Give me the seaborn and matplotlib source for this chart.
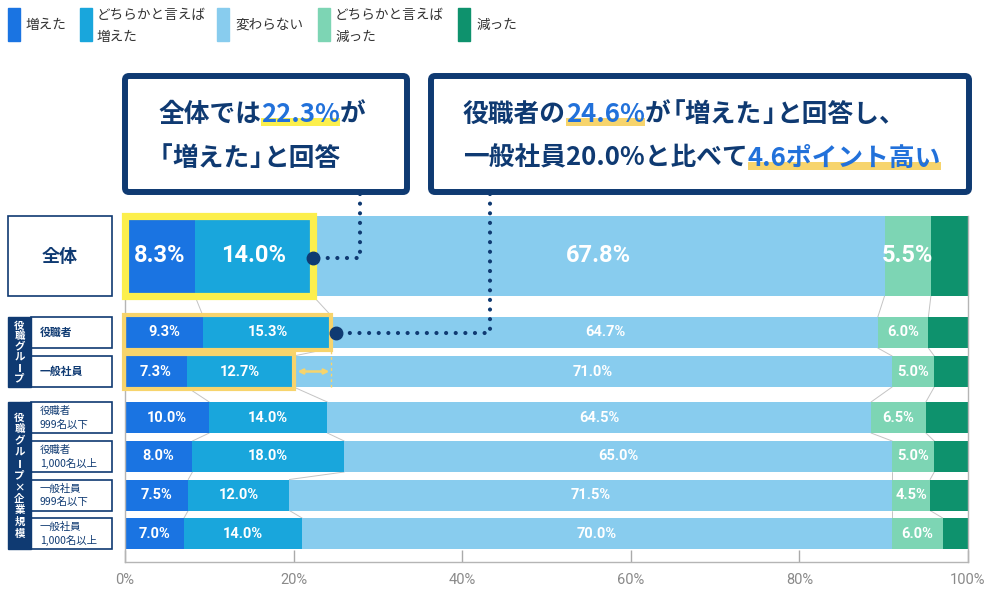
import matplotlib
matplotlib.use("Agg")
import matplotlib.pyplot as plt
from matplotlib.patches import Rectangle, FancyBboxPatch
import seaborn as sns
import numpy as np

# data (percent)
rows = ["全体", "役職者", "一般社員", "役職者\n999名以下", "役職者\n1,000名以上",
        "一般社員\n999名以下", "一般社員\n1,000名以上"]
increased = [8.3, 9.3, 7.3, 10.0, 8.0, 7.5, 7.0]
rather_inc = [14.0, 15.3, 12.7, 14.0, 18.0, 12.0, 14.0]
unchanged = [67.8, 64.7, 71.0, 64.5, 65.0, 71.5, 70.0]
rather_dec = [5.5, 6.0, 5.0, 6.5, 5.0, 4.5, 6.0]
decreased = [4.4, 4.7, 4.0, 5.0, 4.0, 4.5, 3.0]
legend_labels = ["増えた", "どちらかと言えば\n増えた", "変わらない", "どちらかと言えば\n減った", "減った"]
x_ticks = [0, 20, 40, 60, 80, 100]
groups = [(1, 2, "役職グループ"), (3, 6, "役職グループ×企業規模")]

# layout (pixels from top-left of the 1000x589 image)
row_y = [256, 332.5, 371.5, 417.5, 456.5, 495, 533.5]
row_h = [80, 31, 31, 31, 31, 31, 31]
AX_L, AX_R, AX_T, AX_B = 125, 968, 216, 562
W, H = 1000, 589

colors = sns.color_palette(["#1a74e2", "#19a6dc", "#88ccee", "#7dd5b4", "#0e926d"])
navy = "#0f3a72"
yellow1 = "#fcef4c"
yellow2 = "#f7d46c"
blue_txt = "#2271da"

sns.set_theme(style="white")
plt.rcParams["font.family"] = ["Noto Sans CJK JP", "DejaVu Sans"]
num_font = ["Roboto", "DejaVu Sans"]

fig = plt.figure(figsize=(10, 5.89), dpi=100)
ax = fig.add_axes([AX_L / W, 1 - AX_B / H, (AX_R - AX_L) / W, (AX_B - AX_T) / H])
ov = fig.add_axes([0, 0, 1, 1], zorder=5)
ov.set_xlim(0, W)
ov.set_ylim(H, 0)
ov.axis("off")
ov.patch.set_alpha(0)


def px(p):
    return AX_L + p * (AX_R - AX_L) / 100


series = [increased, rather_inc, unchanged, rather_dec, decreased]
data = np.array(series)
cum = np.vstack([np.zeros(len(rows)), np.cumsum(data, axis=0)])

for k, vals in enumerate(series):
    ax.barh(row_y, vals, left=cum[k], height=row_h, color=colors[k], edgecolor="none", zorder=2)

# series lines between rows
for i in range(len(rows) - 1):
    y0 = row_y[i] + row_h[i] / 2
    y1 = row_y[i + 1] - row_h[i + 1] / 2
    for k in range(1, 5):
        ax.plot([cum[k][i], cum[k][i + 1]], [y0, y1], color="#c4c4c4", lw=0.7, zorder=1)

# value labels
for i in range(len(rows)):
    fs = 17 if i == 0 else 10.5
    for k in range(4):
        v = series[k][i]
        ax.text(cum[k][i] + v / 2, row_y[i], f"{v:.1f}%", ha="center", va="center",
                color="white", fontsize=fs, fontweight="bold", family=num_font, zorder=3)

ax.set_xlim(0, 100)
ax.set_ylim(AX_B, AX_T)
ax.set_yticks([])
ax.set_xticks(x_ticks)
ax.set_xticklabels([f"{t}%" for t in x_ticks], family=["Roboto", "DejaVu Sans"])
ax.tick_params(axis="x", direction="in", length=9, width=1, color="#aaaaaa",
               labelcolor="#8a8a8a", labelsize=10.5, pad=8, bottom=True)
ax.grid(False)
for s in ["left", "right", "bottom"]:
    ax.spines[s].set_color("#b5b5b5")
    ax.spines[s].set_linewidth(1)
ax.spines["top"].set_visible(False)

# legend
leg_x = [8, 80, 217, 318, 458]
for k, lab in enumerate(legend_labels):
    ov.add_patch(Rectangle((leg_x[k], 8), 12, 33, color=colors[k]))
    lines = lab.split("\n")
    if len(lines) == 1:
        ov.text(leg_x[k] + 18, 25, lines[0], va="center", fontsize=9.8, color="#333333")
    else:
        ov.text(leg_x[k] + 17, 15, lines[0], va="center", fontsize=9.8, color="#333333")
        ov.text(leg_x[k] + 17, 37, lines[1], va="center", fontsize=9.8, color="#333333")

# row label boxes
for i, lab in enumerate(rows):
    top = row_y[i] - row_h[i] / 2
    if i == 0:
        ov.add_patch(Rectangle((8, top), 104, row_h[i], facecolor="white", edgecolor=navy, lw=1.2))
        ov.text(60, row_y[i], lab, ha="center", va="center", fontsize=13,
                fontweight="bold", color=navy)
    else:
        ov.add_patch(Rectangle((31, top), 81, row_h[i], facecolor="white", edgecolor=navy, lw=1.2))
        lines = lab.split("\n")
        if len(lines) == 1:
            ov.text(40, row_y[i], lab, ha="left", va="center", fontsize=7.8,
                    fontweight="bold", color=navy)
        else:
            ov.text(40, row_y[i] - 6.5, lines[0], ha="left", va="center", fontsize=7.5,
                    color=navy)
            ov.text(40, row_y[i] + 7, lines[1], ha="left", va="center", fontsize=7.5,
                    color=navy)

for a, b, lab in groups:
    top = row_y[a] - row_h[a] / 2
    bot = row_y[b] + row_h[b] / 2
    ov.add_patch(Rectangle((8, top), 23, bot - top, color=navy))
    n = len(lab)
    step = 10.4 if n < 8 else 11.6
    y = (top + bot) / 2 - step * (n - 1) / 2
    for ch in lab:
        if ch == "ー":
            # long vowel mark written vertically
            ov.plot([19.5, 19.5], [y - 4, y + 4], color="white", lw=1.3, solid_capstyle="butt")
        else:
            ov.text(19.5, y, ch, ha="center", va="center", fontsize=7.5, fontweight="bold",
                    color="white")
        y += step

# highlight frames
ov.add_patch(Rectangle((px(0), AX_T), px(22.3) - px(0), 80, fill=False,
                       edgecolor=yellow1, lw=5.2))
ov.add_patch(Rectangle((124, 315), px(24.6) - 1 - 124, 35, fill=False,
                       edgecolor=yellow2, lw=3))
ov.add_patch(Rectangle((124, 354), px(20) - 124, 35, fill=False,
                       edgecolor=yellow2, lw=3))
ov.annotate("", xy=(px(24.6) - 3, 371.5), xytext=(px(20) + 4, 371.5),
            arrowprops=dict(arrowstyle="<|-|>", color=yellow2, lw=1.8,
                            mutation_scale=7, shrinkA=0, shrinkB=0))
ov.plot([px(24.6) - 1, px(24.6) - 1], [351, 388], color=yellow2, lw=1, ls=(0, (2, 2)))

# callout boxes
ov.add_patch(FancyBboxPatch((125, 76), 282, 116, boxstyle="round,pad=0,rounding_size=4",
                            facecolor="white", edgecolor=navy, lw=4.3))
ov.add_patch(FancyBboxPatch((431, 76), 538, 116, boxstyle="round,pad=0,rounding_size=4",
                            facecolor="white", edgecolor=navy, lw=4.3))

renderer = fig.canvas.get_renderer()


def rich(x, y, parts, size=18.5):
    em = size * 100 / 72
    for s, col, hl in parts:
        # split so that the corner brackets can be set tight
        tokens = s.replace("「", "\0「\0").replace("」", "\0」\0").split("\0")
        x0 = x
        for tok in tokens:
            if not tok:
                continue
            if tok == "「":
                x -= 0.45 * em
            t = ov.text(x, y, tok, ha="left", va="center", fontsize=size, fontweight="bold",
                        color=col, zorder=3)
            x += t.get_window_extent(renderer=renderer).width
            if tok == "」":
                x -= 0.45 * em
        if hl:
            ov.add_patch(Rectangle((x0, y + 4), x - x0, 8, color=hl, zorder=2, lw=0))


rich(158, 114, [("全体では", navy, None), ("22.3%", blue_txt, yellow1), ("が", navy, None)])
rich(158, 158, [("「増えた」と回答", navy, None)])
rich(463, 114, [("役職者の", navy, None), ("24.6%", blue_txt, yellow2),
                ("が「増えた」と回答し、", navy, None)])
rich(463, 158, [("一般社員20.0%と比べて", navy, None), ("4.6ポイント高い", blue_txt, yellow2)])

# dotted connectors
dot = (0, (0.01, 2.3))
ov.plot([360, 360, px(22.3)], [194, 258, 258], color=navy, lw=3, ls=dot,
        dash_capstyle="round", zorder=4)
ov.plot([px(22.3)], [258], "o", color=navy, ms=9, zorder=4)
ov.plot([490, 490, px(24.6) + 4], [194, 333, 333], color=navy, lw=3, ls=dot,
        dash_capstyle="round", zorder=4)
ov.plot([px(24.6) + 4], [333], "o", color=navy, ms=9, zorder=4)

fig.savefig("out.png", dpi=100, facecolor="white")
